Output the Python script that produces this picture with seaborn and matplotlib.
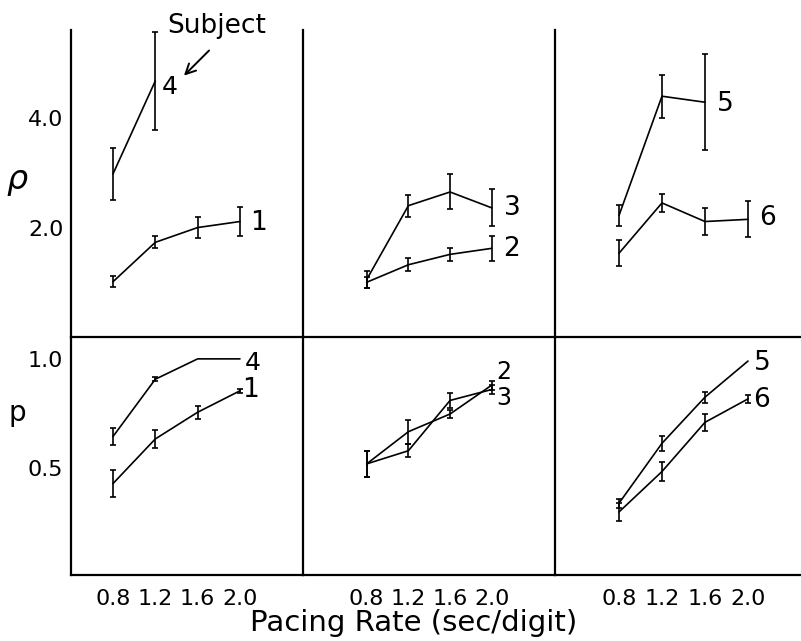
import matplotlib
matplotlib.use("Agg")
import matplotlib.pyplot as plt
import seaborn as sns
import pandas as pd

# ---------------- data ----------------
pacing = [0.8, 1.2, 1.6, 2.0]
xtick_labels = ["0.8", "1.2", "1.6", "2.0"]

# rho (top row)
rho_s4 = [2.98, 4.68]
rho_s4_err = [0.47, 0.90]
rho_s1 = [1.01, 1.73, 2.00, 2.11]
rho_s1_err = [0.10, 0.11, 0.20, 0.26]
rho_s3 = [1.05, 2.40, 2.65, 2.36]
rho_s3_err = [0.16, 0.20, 0.32, 0.34]
rho_s2 = [1.00, 1.32, 1.51, 1.62]
rho_s2_err = [0.10, 0.12, 0.12, 0.23]
rho_s5 = [2.22, 4.40, 4.29]
rho_s5_err = [0.20, 0.39, 0.88]
rho_s6 = [1.53, 2.45, 2.11, 2.15]
rho_s6_err = [0.24, 0.17, 0.25, 0.33]

# p (bottom row)
p_s4 = [0.645, 0.907, 1.0, 1.0]
p_s4_err = [0.04, 0.01, 0.0, 0.0]
p_s1 = [0.43, 0.634, 0.756, 0.854]
p_s1_err = [0.06, 0.04, 0.03, 0.01]
p_s2 = [0.52, 0.667, 0.748, 0.88]
p_s2_err = [0.06, 0.055, 0.02, 0.02]
p_s3 = [0.52, 0.58, 0.81, 0.86]
p_s3_err = [0.06, 0.03, 0.035, 0.02]
p_s5 = [0.34, 0.614, 0.825, 0.99]
p_s5_err = [0.02, 0.035, 0.025, 0.0]
p_s6 = [0.30, 0.485, 0.71, 0.817]
p_s6_err = [0.04, 0.045, 0.04, 0.02]

rho_ticks = [2.0, 4.0]
rho_ticklabels = ["2.0", "4.0"]
p_ticks = [0.5, 1.0]
p_ticklabels = ["0.5", "1.0"]

# ---------------- style ----------------
sns.set_theme(style="white")
plt.rcParams["font.family"] = ["DejaVu Sans"]
for k in ("text.color", "axes.labelcolor", "xtick.color", "ytick.color"):
    plt.rcParams[k] = "black"
tick_fs = 16
lab_fs = 19

W, H = 801, 641
fig = plt.figure(figsize=(W / 100, H / 100), dpi=100)


def fx(px):
    return px / W


def fy(py):
    return 1 - py / H


cols = [
    dict(l=71, r=303, xlim=(0.403, 2.596)),
    dict(l=303, r=555, xlim=(0.189, 2.607)),
    dict(l=555, r=801, xlim=(0.205, 2.493)),
]
top_y = (30, 337)
bot_y = (337, 575)


def make_ax(c, yr):
    return fig.add_axes([fx(c["l"]), fy(yr[1]), fx(c["r"] - c["l"]), (yr[1] - yr[0]) / H])


def draw(ax, xs, ys, errs):
    df = pd.DataFrame({"x": xs, "y": ys})
    sns.lineplot(data=df, x="x", y="y", ax=ax, color="black", lw=1.2, legend=False)
    ex, ey, ee = [], [], []
    for a, b, e in zip(xs, ys, errs):
        if e > 0:
            ex.append(a); ey.append(b); ee.append(e)
    if ex:
        ax.errorbar(ex, ey, yerr=ee, fmt="none", ecolor="black", elinewidth=1.2,
                    capsize=2.5, capthick=1.2)


top_axes, bot_axes = [], []
for i, c in enumerate(cols):
    at = make_ax(c, top_y)
    ab = make_ax(c, bot_y)
    at.set_xlim(*c["xlim"]); ab.set_xlim(*c["xlim"])
    at.set_ylim(0, 5.61); ab.set_ylim(0.012, 1.10)
    for ax in (at, ab):
        ax.set_facecolor("none")
        for s in ax.spines.values():
            s.set_color("black"); s.set_linewidth(1.6)
        ax.spines["right"].set_visible(False)
    at.spines["top"].set_visible(False)
    at.spines["bottom"].set_visible(False)
    top_axes.append(at); bot_axes.append(ab)

# top row
draw(top_axes[0], pacing[:2], rho_s4, rho_s4_err)
draw(top_axes[0], pacing, rho_s1, rho_s1_err)
draw(top_axes[1], pacing, rho_s3, rho_s3_err)
draw(top_axes[1], pacing, rho_s2, rho_s2_err)
draw(top_axes[2], pacing[:3], rho_s5, rho_s5_err)
draw(top_axes[2], pacing, rho_s6, rho_s6_err)
# bottom row
draw(bot_axes[0], pacing, p_s4, p_s4_err)
draw(bot_axes[0], pacing, p_s1, p_s1_err)
draw(bot_axes[1], pacing, p_s2, p_s2_err)
draw(bot_axes[1], pacing, p_s3, p_s3_err)
draw(bot_axes[2], pacing, p_s5, p_s5_err)
draw(bot_axes[2], pacing, p_s6, p_s6_err)

for i in range(3):
    at, ab = top_axes[i], bot_axes[i]
    for ax in (at, ab):
        ax.set_xlabel(""); ax.set_ylabel("")
    at.set_xticks([])
    at.set_yticks(rho_ticks)
    ab.set_yticks(p_ticks)
    ab.set_xticks(pacing)
    ab.set_xticklabels(xtick_labels, fontsize=tick_fs)
    ab.tick_params(axis="x", direction="in", length=4, width=1.2, pad=10)
    if i == 0:
        at.set_yticklabels(rho_ticklabels, fontsize=tick_fs)
        ab.set_yticklabels(p_ticklabels, fontsize=tick_fs)
        for ax in (at, ab):
            ax.tick_params(axis="y", direction="inout", length=7, width=1.2, pad=2)
    else:
        at.set_yticklabels([]); ab.set_yticklabels([])
        for ax in (at, ab):
            ax.tick_params(axis="y", direction="out", length=2, width=0.8)

# subject labels
t0 = top_axes[0]
t0.text(1.339, 4.57, "4", fontsize=lab_fs - 1, ha="center", va="center")
t0.text(2.18, 2.09, "1", fontsize=lab_fs, ha="center", va="center")
t0.text(1.783, 5.69, "Subject", fontsize=19, ha="center", va="center", clip_on=False)
t0.annotate("", xy=(1.452, 4.74), xytext=(1.726, 5.27),
            arrowprops=dict(arrowstyle="->", color="black", lw=1.4,
                            mutation_scale=18))
top_axes[1].text(2.194, 2.36, "3", fontsize=lab_fs, ha="center", va="center")
top_axes[1].text(2.194, 1.61, "2", fontsize=lab_fs, ha="center", va="center")
top_axes[2].text(1.786, 4.26, "5", fontsize=lab_fs, ha="center", va="center")
top_axes[2].text(2.186, 2.18, "6", fontsize=lab_fs, ha="center", va="center")

bot_axes[0].text(2.123, 0.98, "4", fontsize=lab_fs - 1, ha="center", va="center")
bot_axes[0].text(2.104, 0.858, "1", fontsize=lab_fs, ha="center", va="center")
bot_axes[1].text(2.12, 0.938, "2", fontsize=lab_fs - 2, ha="center", va="center")
bot_axes[1].text(2.12, 0.82, "3", fontsize=lab_fs - 2, ha="center", va="center")
bot_axes[2].text(2.13, 0.98, "5", fontsize=lab_fs, ha="center", va="center")
bot_axes[2].text(2.13, 0.81, "6", fontsize=lab_fs, ha="center", va="center")

# axis labels
fig.text(fx(17), fy(180), "ρ", fontsize=24, style="italic", ha="center", va="center")
fig.text(fx(17), fy(413), "p", fontsize=20, ha="center", va="center")
fig.text(fx(414), fy(623), "Pacing Rate (sec/digit)", fontsize=21, ha="center",
         va="center")

fig.savefig("out.png", dpi=100)
